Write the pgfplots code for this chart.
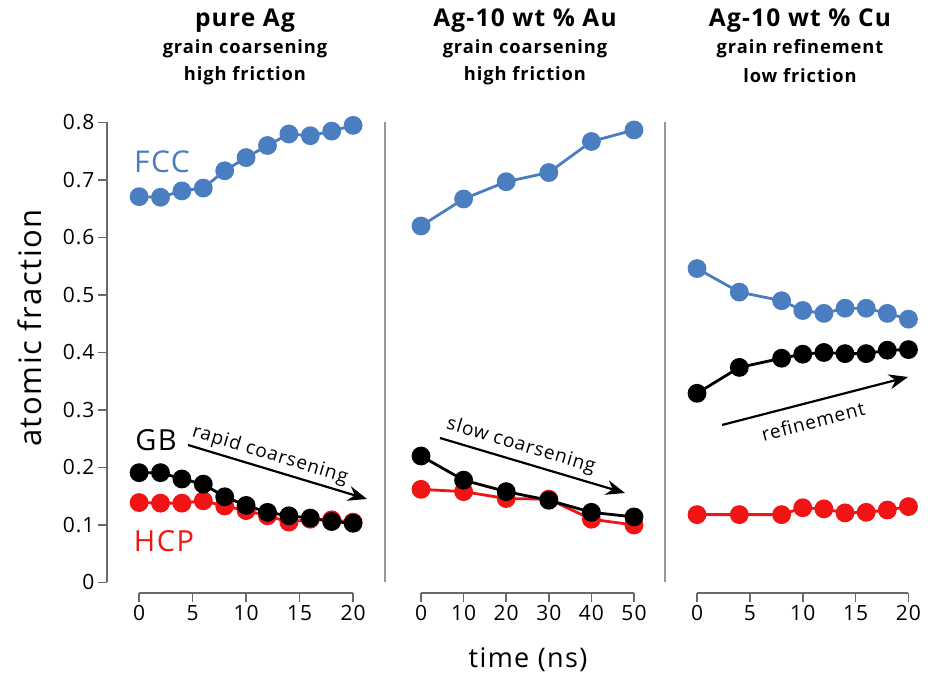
\documentclass[border=0pt]{standalone}
\usepackage{pgfplots}
\pgfplotsset{compat=1.18}
\usetikzlibrary{arrows.meta}
\usepackage{fontspec}
\setmainfont{Open Sans}[LetterSpace=5]
\definecolor{fcc}{RGB}{74,126,193}
\definecolor{hcp}{RGB}{240,20,20}
\definecolor{spine}{RGB}{105,105,105}
\definecolor{sep}{RGB}{150,150,150}
\pgfplotsset{
  panel/.style={
    scale only axis, clip=false,
    ymin=-0.0183, ymax=0.8, height=470.5pt,
    axis x line*=bottom, axis y line*=left,
    axis line style={draw=none},
    xtick align=outside, ytick align=outside,
    major tick length=9pt,
    every tick/.style={spine, line width=1.5pt},
    tick label style={font=\fontsize{21}{24}\selectfont},
    /pgf/number format/assume math mode=true,
    anchor=south west,
  },
  fccs/.style={fcc, line width=2.8pt, mark=*, mark size=8pt, mark options={fill=fcc, draw=fcc}},
  gbs/.style={black, line width=2.8pt, mark=*, mark size=8pt, mark options={fill=black, draw=black}},
  hcps/.style={hcp, line width=2.8pt, mark=*, mark size=8pt, mark options={fill=hcp, draw=hcp}},
}
\begin{document}
\begin{tikzpicture}
\useasboundingbox (0,0) rectangle (933pt,676pt);
% panel 1
\begin{axis}[panel, at={(107pt,83pt)}, width=267.5pt, xmin=-3, xmax=22,
  xtick={0,5,10,15,20}, ytick={0,0.1,0.2,0.3,0.4,0.5,0.6,0.7,0.8},
  yticklabels={0,0.1,0.2,0.3,0.4,0.5,0.6,0.7,0.8}]
\draw[spine, line width=1.5pt] (axis cs:0,-0.0183) -- (axis cs:20,-0.0183);
\draw[spine, line width=1.5pt] (axis cs:-3,0) -- (axis cs:-3,0.8);
\addplot[fccs] coordinates {(0,0.671)(2,0.670)(4,0.681)(6,0.686)(8,0.716)(10,0.739)(12,0.760)(14,0.780)(16,0.777)(18,0.785)(20,0.795)};
\addplot[hcps] coordinates {(0,0.139)(2,0.138)(4,0.138)(6,0.142)(8,0.133)(10,0.125)(12,0.116)(14,0.105)(16,0.110)(18,0.109)(20,0.105)};
\addplot[gbs] coordinates {(0,0.191)(2,0.191)(4,0.180)(6,0.171)(8,0.149)(10,0.134)(12,0.122)(14,0.116)(16,0.112)(18,0.106)(20,0.103)};
\end{axis}
% panel 2
\begin{axis}[panel, at={(385pt,83pt)}, width=280.1pt, xmin=-8.45, xmax=57.3,
  xtick={0,10,20,30,40,50}, ytick=\empty]
\draw[spine, line width=1.5pt] (axis cs:0,-0.0183) -- (axis cs:50,-0.0183);
\draw[sep, line width=1.5pt] (axis cs:-8.45,0) -- (axis cs:-8.45,0.8);
\draw[sep, line width=1.5pt] (axis cs:57.3,0) -- (axis cs:57.3,0.8);
\addplot[fccs] coordinates {(0,0.620)(10,0.667)(20,0.697)(30,0.713)(40,0.767)(50,0.787)};
\addplot[hcps] coordinates {(0,0.162)(10,0.158)(20,0.146)(30,0.145)(40,0.110)(50,0.100)};
\addplot[gbs] coordinates {(0,0.220)(10,0.178)(20,0.158)(30,0.143)(40,0.122)(50,0.114)};
\end{axis}
% panel 3
\begin{axis}[panel, at={(665pt,83pt)}, width=264.6pt, xmin=-3.03, xmax=22,
  xtick={0,5,10,15,20}, ytick=\empty]
\draw[spine, line width=1.5pt] (axis cs:0,-0.0183) -- (axis cs:20,-0.0183);
\addplot[fccs] coordinates {(0,0.546)(4,0.505)(8,0.490)(10,0.473)(12,0.468)(14,0.477)(16,0.477)(18,0.468)(20,0.458)};
\addplot[gbs] coordinates {(0,0.329)(4,0.374)(8,0.390)(10,0.397)(12,0.400)(14,0.398)(16,0.398)(18,0.404)(20,0.405)};
\addplot[hcps] coordinates {(0,0.118)(4,0.118)(8,0.118)(10,0.130)(12,0.128)(14,0.121)(16,0.122)(18,0.126)(20,0.132)};
\end{axis}
% titles
\begin{scope}[every node/.style={inner sep=0pt}]
\node[font=\fontsize{24.5}{27}\selectfont\bfseries] at (245pt,655pt) {pure Ag};
\node[font=\fontsize{18.3}{22}\selectfont\bfseries] at (245pt,627pt) {grain coarsening};
\node[font=\fontsize{18.3}{22}\selectfont\bfseries] at (245pt,600pt) {high friction};
\node[font=\fontsize{24.5}{27}\selectfont\bfseries] at (525pt,655pt) {Ag-10 wt \% Au};
\node[font=\fontsize{18.3}{22}\selectfont\bfseries] at (525pt,627pt) {grain coarsening};
\node[font=\fontsize{18.3}{22}\selectfont\bfseries] at (525pt,600pt) {high friction};
\node[font=\fontsize{24.5}{27}\selectfont\bfseries] at (800pt,655pt) {Ag-10 wt \% Cu};
\node[font=\fontsize{18.3}{22}\selectfont\bfseries] at (800pt,627pt) {grain refinement};
\node[font=\fontsize{18.3}{22}\selectfont\bfseries] at (800pt,600pt) {low friction};
\end{scope}
% axis labels
\node[rotate=90, font=\fontsize{31}{34}\selectfont] at (30pt,348pt) {atomic fraction};
\node[font=\fontsize{27}{30}\selectfont] at (528pt,16pt) {time (ns)};
% series labels
\node[fcc, font=\fontsize{30}{33}\selectfont] at (162pt,514pt) {FCC};
\node[black, font=\fontsize{29}{32}\selectfont] at (156pt,236pt) {GB};
\node[hcp, font=\fontsize{29}{32}\selectfont] at (164pt,135pt) {HCP};
% arrows
\draw[line width=2.2pt, -{Stealth[length=19pt,width=15pt]}] (188pt,231pt) -- (367pt,177pt);
\node[rotate=-16.9, font=\fontsize{19}{23}\selectfont] at (270pt,221pt) {rapid coarsening};
\draw[line width=2.2pt, -{Stealth[length=19pt,width=15pt]}] (440pt,238pt) -- (625pt,183pt);
\node[rotate=-16.6, font=\fontsize{19}{23}\selectfont] at (521pt,230pt) {slow coarsening};
\draw[line width=2.2pt, -{Stealth[length=19pt,width=15pt]}] (722pt,251pt) -- (908pt,299pt);
\node[rotate=14.5, font=\fontsize{19}{23}\selectfont] at (813pt,255pt) {refinement};
\end{tikzpicture}
\end{document}
